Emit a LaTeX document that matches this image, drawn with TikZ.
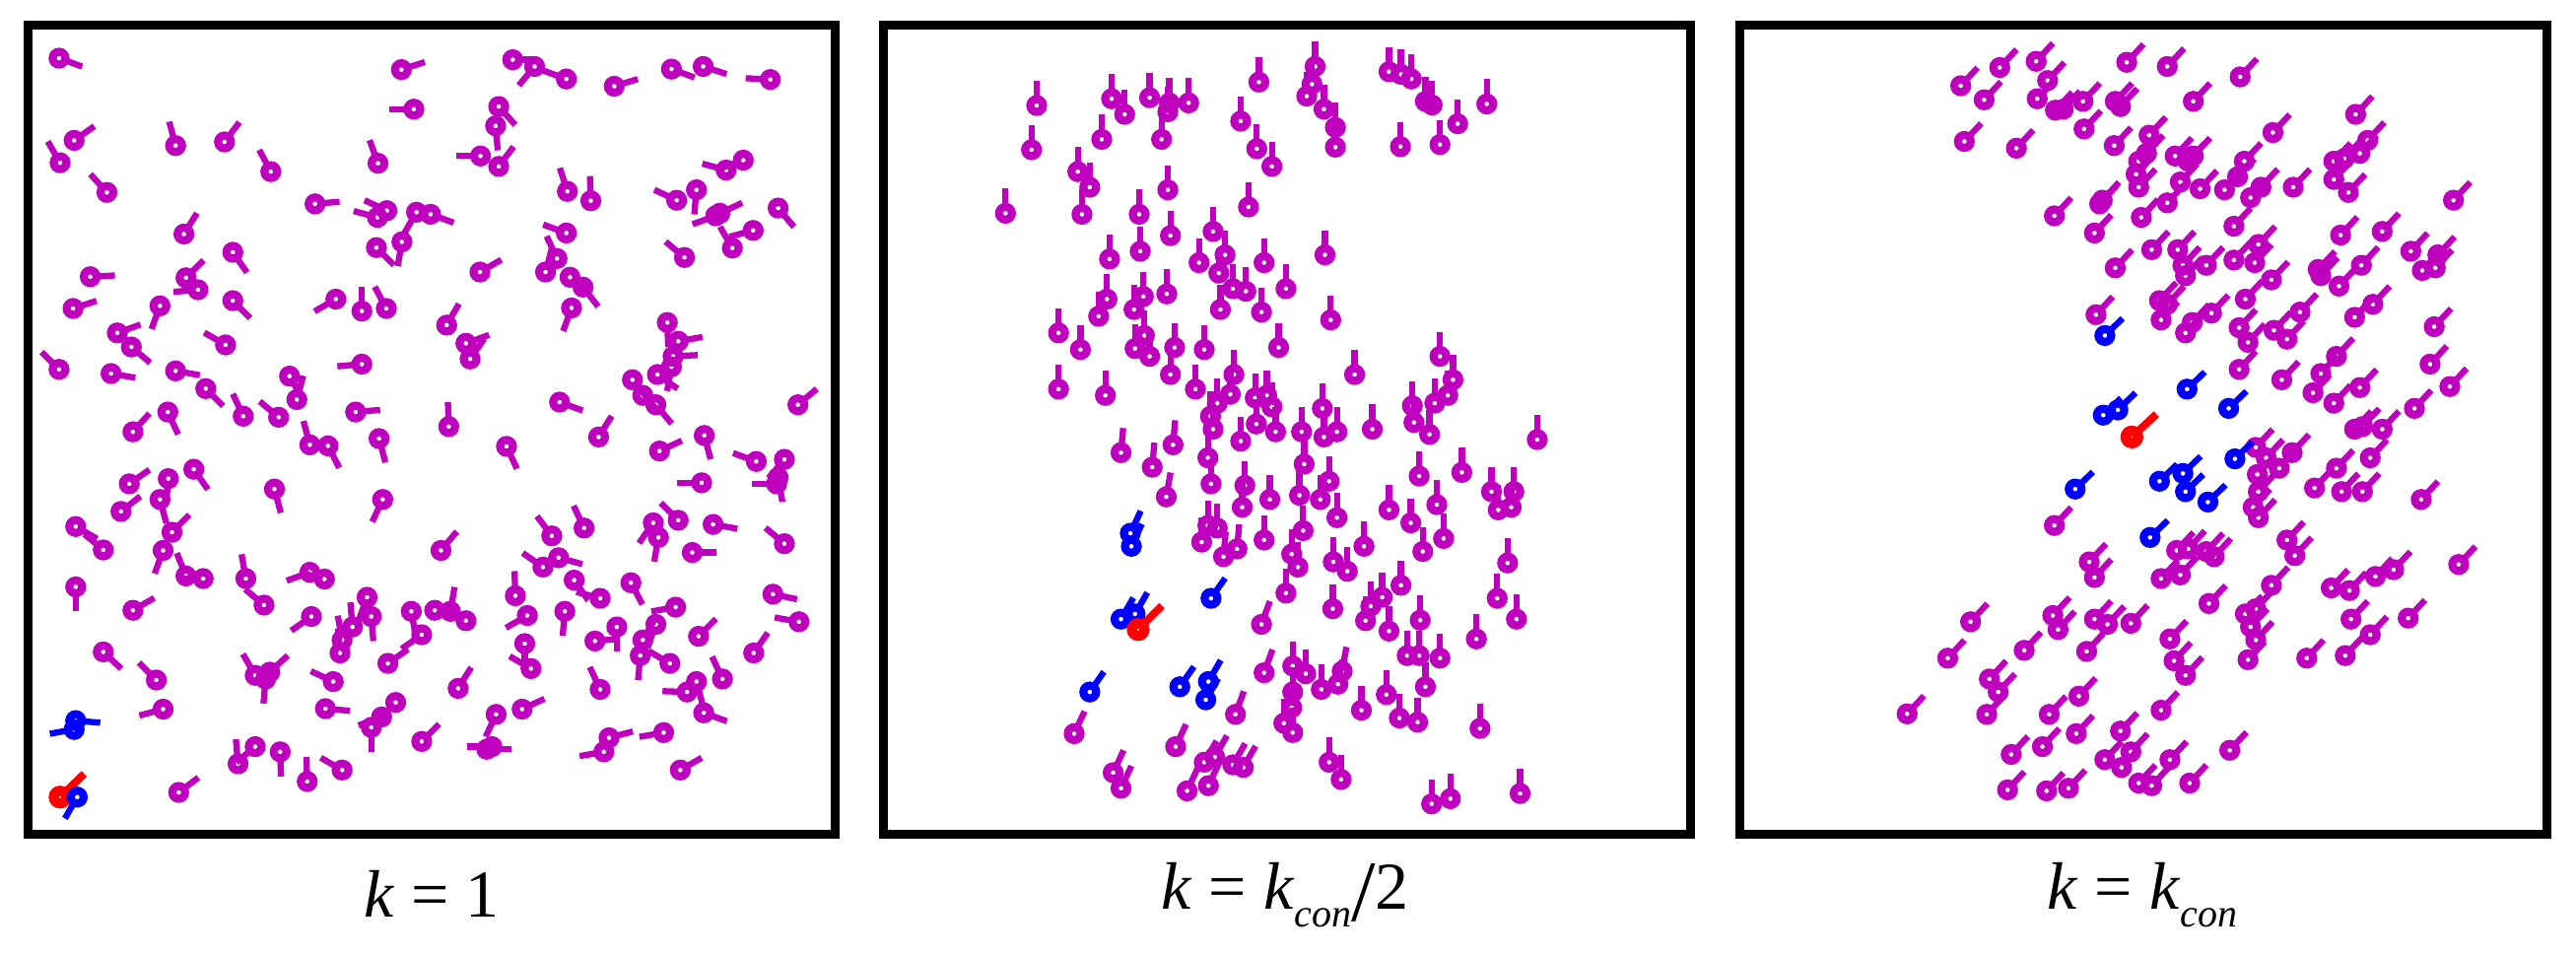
\documentclass[tikz,border=0pt]{standalone}
\usepackage{fontspec}
\setmainfont{Liberation Serif}
\definecolor{mag}{RGB}{191,0,191}
\tikzset{ringst/.style={line width=8.2pt}, tailst/.style={line width=6.3pt},
  panel/.style={draw=black, line width=9pt, minimum width=819pt, minimum height=821pt, inner sep=0pt},
  lab/.style={anchor=base, font=\fontsize{68}{80}\selectfont, inner sep=0pt}}
\newcommand\prt[4][mag]{\draw[tailst,#1] (#2,#3) ++(#4:8pt) -- ++(#4:17pt); \draw[ringst,#1] (#2,#3) circle[radius=6.5pt];}
\newcommand\bigprt[3]{\draw[line width=7.8pt,red] (#1,#2) ++(#3:8pt) -- ++(#3:26pt); \draw[line width=10.5pt,red] (#1,#2) circle[radius=6.3pt];}
\begin{document}
\begin{tikzpicture}[x=1pt,y=-1pt]
\useasboundingbox (0,0) rectangle (2614,969);
% panel 1
\begin{scope}[shift={(24,21)},x=0.528pt,y=-0.528pt]
\foreach \x/\y/\a in {68/72/-20,726/94/18,940/75/0,982/88/-130,1043/112/160,1135/126/17,1245/93/-20,1306/88/-18,1435/113/177,750/170/180,913/165/-48,907/202/-85,878/260/180,913/280/53,97/230/35,70/273/120,292/240/105,386/233/53,475/290/118,681/274/110,160/330/132,1045/328/108,1090/346/92,1383/268/200,1350/287/165,1255/345/155,1293/325/-95,1338/370/25,1330/375/200,1450/360/-50,1402/403/195,1362/437/120,1270/455/140,560/352/5,698/365/155,680/378/165,755/368/-120,782/372/-20,727/425/-100,678/436/-45,308/410/58,402/445/-55,128/492/3,312/494/45,335/517/185,402/538/-45,262/548/-110,95/553/18,877/483/30,1043/408/160,1003/483/75,1025/457/115,1050/493/-40,1075/512/-52,1053/552/-110,600/535/210,650/558/90,697/553/118,813/585/60,850/620/20,858/650/55,180/600/20,207/627/-40,388/623/150,68/670/135,168/678/-10,292/673/-10,650/660/185,511/683/-60,525/728/75,350/707/-45,422/760/115,490/762/140,638/752/5,817/780/92,1237/580/-88,1258/616/10,1248/645/3,1245/665/-100,1218/680/-35,1170/690/-50,1190/720/-45,1215/738/-50,1030/733/-20,1105/800/58,1488/738/40,210/790/48,277/752/-65,550/815/105,585/817/-63,683/803/-75,928/818/-65,1222/827/25,1308/797/-75,1408/847/160,1462/843/-130,1447/890/180,1450/878/-80,1303/888/180,203/890/35,278/880/-95,327/862/-55,262/920/-75,187/943/38,482/900/-75,690/920/-115,100/972/-30,153/1017/140,285/983/45,268/1018/-110,312/1067/112,345/1072/180,427/1072/100,550/1060/200,578/1073/165,802/1018/50,1015/990/127,1077/975/115,1210/965/-125,1220/993/-100,1258/960/135,1325/968/-10,1462/1005/140,1285/1022/0,998/1050/145,1028/1032/-15,100/1088/-90,210/1133/30,462/1123/140,553/1145/215,660/1108/250,668/1145/-85,632/1165/95,612/1190/100,608/1215/95,745/1135/-80,765/1180/215,700/1235/35,790/1133/5,820/1135/80,850/1153/160,945/1105/92,968/1143/210,1040/1135/-95,1058/1075/-55,1108/1110/165,1167/1080/-62,1253/1127/190,1215/1160/-110,1190/1190/60,1185/1220/-95,1140/1165/-90,1098/1192/5,1297/1183/45,1403/1215/55,1490/1155/170,1440/1102/-12,963/1197/-90,975/1245/150,1242/1235/150,153/1213/-43,255/1267/135,445/1258/120,473/1252/43,465/1265/-95,595/1270/155,835/1283/58,1108/1285/115,1343/1265/115,1275/1290/178,1293/1270/-75,268/1323/195,580/1322/-5,715/1310/225,688/1338/200,668/1358/-90,958/1323/25,908/1333/-115,1307/1330/-20,765/1385/45,890/1400/0,900/1395/180,1125/1378/15,1115/1405/190,1230/1368/190,445/1395/220,412/1428/95,493/1405/-88,545/1462/92,612/1440/150,298/1483/37,1262/1440/30}
  {\prt{\x}{\y}{\a}}
\prt[blue]{100}{1345}{-5}
\prt[blue]{97}{1362}{190}
\bigprt{70}{1492}{44}
\prt[blue]{103}{1492}{-120}
\end{scope}
% panel 2
\begin{scope}[shift={(892,21)},x=0.528pt,y=-0.528pt]
\foreach \x/\y/\a in {303/163/90,447/150/90,472/180/90,520/148/90,558/158/90,595/158/90,555/175/90,730/118/90,838/88/90,832/122/90,822/145/90,855/170/90,877/205/90,877/243/90,980/98/90,1003/103/90,1023/112/90,1050/155/90,1063/162/90,1168/160/90,1112/198/90,1078/238/90,1002/242/90,293/248/90,428/228/90,543/228/90,695/193/90,726/246/90,755/280/90,382/290/90,405/320/90,555/325/90,390/372/90,500/372/90,710/358/90,243/370/90,560/413/90,642/405/90,665/450/90,502/443/90,443/458/90,615/465/90,653/485/90,740/465/90,857/450/90,438/535/90,422/568/90,508/530/90,490/555/90,553/525/90,680/515/90,705/520/90,735/560/90,782/515/90,656/555/90,868/575/90,345/600/90,387/632/90,510/605/90,492/630/90,520/645/90,568/628/90,625/632/90,768/628/90,560/680/90,608/708/90,682/680/90,675/718/90,650/735/90,637/760/90,345/708/90,435/720/90,914/680/90,1078/645/90,1103/690/90,1093/720/90,1068/735/90,1025/740/90,723/725/90,745/720/90,755/742/90,725/775/90,762/790/90,812/790/90,852/745/90,855/800/90,880/790/90,948/785/90,1028/772/90,1058/795/90,642/785/90,465/830/85,525/858/85,565/815/85,632/840/90,695/808/90,1265/805/90,817/852/90,638/890/90,703/893/90,698/935/90,751/920/90,808/912/90,848/920/90,865/885/90,880/955/90,980/940/90,1022/965/90,1038/875/90,1120/868/90,1177/905/90,1220/905/90,1190/940/90,1215/935/90,1072/930/90,552/915/80,620/1002/90,632/970/90,650/975/90,662/1030/85,688/1015/85,740/998/90,815/980/90,793/1025/90,805/1050/90,873/1040/90,900/1058/90,932/1010/90,1045/1020/90,1085/995/90,1208/1042/90,782/1100/90,872/1130/90,935/1153/90,945/1125/90,967/1108/90,980/1173/90,1003/1085/90,1040/1152/90,1188/1110/90,1225/1150/90,1148/1188/90,735/1160/70,740/1253/70,795/1240/90,820/1255/90,850/1285/90,882/1275/80,890/1250/80,1015/1220/90,1038/1220/90,1078/1225/90,1050/1280/90,975/1295/90,927/1325/90,685/1333/70,795/1290/90,793/1320/90,778/1350/90,795/1368/90,1000/1340/90,1035/1348/90,1155/1360/90,375/1370/65,570/1395/65,625/1425/60,645/1415/60,680/1430/60,700/1435/60,865/1425/90,888/1458/90,450/1445/65,465/1475/65,592/1480/65,633/1470/65,1062/1505/90,1098/1495/90,1232/1485/90}
  {\prt{\x}{\y}{\a}}
\foreach \x/\y/\a in {483/985/65,485/1010/65,638/1110/55,465/1150/60,492/1140/60,405/1290/55,578/1280/55,633/1270/60,628/1305/60}
  {\prt[blue]{\x}{\y}{\a}}
\bigprt{498}{1170}{45}
\end{scope}
% panel 3
\begin{scope}[shift={(1761,21)},x=0.528pt,y=-0.528pt]
\foreach \x/\y in {433/125,478/152,508/90,578/78,600/115,580/150,615/172,630/170,668/155,670/208,730/155,740/165,752/80,830/88,880/155,970/108,440/232,540/245,728/240,795/220,1033/215,1192/180,775/270,790/255,770/295,775/320,845/260,870/270,880/260,855/310,830/350,893/323,940/325,965/300,990/340,1010/320,978/270,1072/320,1150/270,1170/265,1200/255,1215/230,1150/305,1178/330,1380/345,700/352,705/345,613/375,690/408,780/378,958/395,1163/412,1243/405,800/440,850/440,860/470,865/490,905/470,958/460,998/465,1005/430,730/475,1030/498,1120/478,1125/490,1160/510,1203/470,1298/443,1320/480,1345/475,1350/450,693/565,815/538,830/545,818/575,865/600,878/580,915/562,980/535,968/590,985/618,1035/595,1060/612,1085/560,1190/570,1225/545,1343/588,968/670,1050/690,1110/715,1125/678,1155/645,1150/735,1200/705,1305/745,1335/660,1373/703,1190/785,1205/780,1243/785,1220/840,1155/860,1000/820,1020/840,1070/830,1045/860,1003/872,1005/905,995/935,1005/955,1113/898,1165/905,1205/905,1318/920,613/970,1060/998,1075/1028,848/1018,870/1015,905/1020,920/1030,680/1040,690/1070,818/1072,855/1065,1030/1085,1145/1090,1180/1095,1230/1068,1265/1055,1390/1045,452/1155,610/1143,620/1170,690/1150,715/1160,760/1158,910/1120,980/1140,1000/1130,990/1165,1000/1190,985/1228,1183/1150,1220/1180,1293/1148,408/1225,555/1210,675/1212,835/1188,843/1230,865/1258,1098/1225,1172/1220,488/1265,505/1290,483/1333,330/1332,660/1298,603/1333,818/1325,530/1410,590/1395,655/1370,740/1365,710/1420,760/1405,742/1435,835/1420,950/1402,523/1478,598/1480,640/1475,775/1465,800/1470,873/1465}
  {\prt{\x}{\y}{47}}
\foreach \x/\y in {710/605,868/708,707/758,735/748,948/745,960/842,815/885,860/870,865/905,908/925,653/900,797/993}
  {\prt[blue]{\x}{\y}{44}}
\bigprt{762}{800}{43}
\end{scope}
% frames
\node[panel] (p1) at (438,436) {};
\node[panel] (p2) at (1306,436) {};
\node[panel] (p3) at (2175,436) {};
% labels
\node[lab] (l1) at (438,930) {\textit{k} = 1};
\node[lab] (l2) at (1304,922) {\textit{k} = \textit{k}\raisebox{-18pt}{\fontsize{40}{40}\selectfont\textit{con}}\raisebox{-12pt}{\fontsize{88}{88}\selectfont /}2};
\node[lab] (l3) at (2174,922) {\textit{k} = \textit{k}\raisebox{-18pt}{\fontsize{40}{40}\selectfont\textit{con}}};
\end{tikzpicture}
\end{document}
